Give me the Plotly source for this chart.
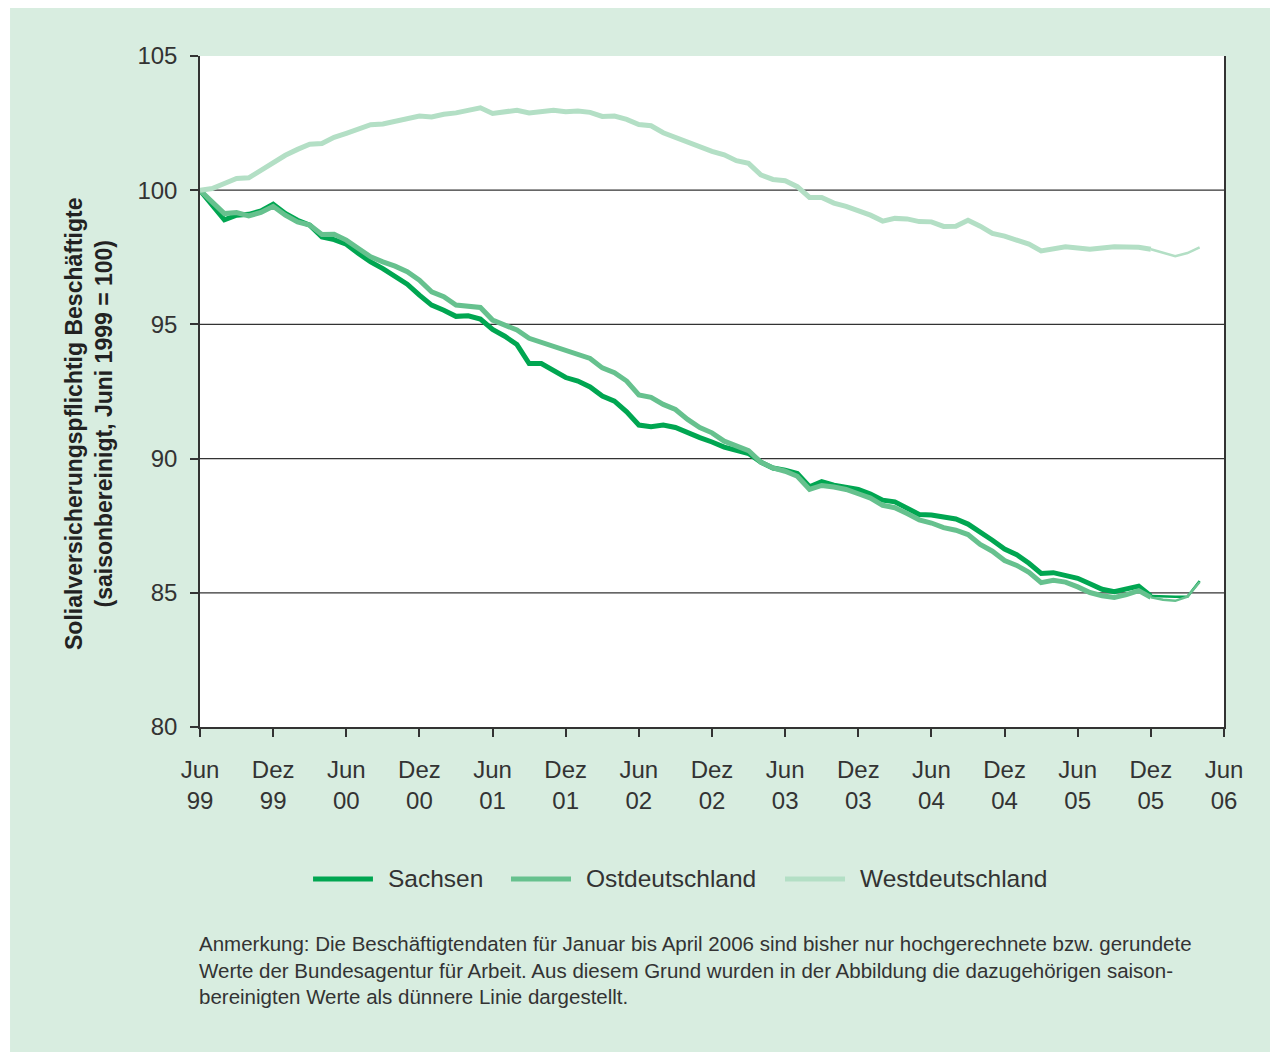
import plotly.graph_objects as go

# month index since Jun 1999 (0 = Jun 99, 82 = Apr 06)
months = list(range(83))

sachsen = [100.0, 99.45, 98.9, 99.07, 99.1, 99.23, 99.48, 99.13, 98.88, 98.7,
           98.26, 98.16, 97.99, 97.64, 97.33, 97.08, 96.77, 96.5, 96.09, 95.72,
           95.53, 95.3, 95.32, 95.2, 94.81, 94.56, 94.25, 93.54, 93.54, 93.27,
           93.02, 92.89, 92.67, 92.33, 92.14, 91.74, 91.25, 91.19, 91.25, 91.16,
           90.96, 90.78, 90.62, 90.43, 90.31, 90.19, 89.87, 89.65, 89.57, 89.45,
           88.95, 89.14, 89.01, 88.95, 88.85, 88.68, 88.45, 88.39, 88.18, 87.92,
           87.9, 87.83, 87.75, 87.56, 87.27, 86.96, 86.63, 86.42, 86.1, 85.72,
           85.75, 85.66, 85.54, 85.34, 85.13, 85.04, 85.15, 85.25, 84.88, 84.86,
           84.85, 84.85, 85.44]

ost = [100.0, 99.55, 99.13, 99.17, 99.04, 99.17, 99.4, 99.07, 98.82, 98.7,
       98.35, 98.36, 98.14, 97.83, 97.52, 97.33, 97.17, 96.96, 96.65, 96.21,
       96.03, 95.72, 95.66, 95.63, 95.16, 94.97, 94.79, 94.48, 94.32, 94.2,
       94.04, 93.85, 93.73, 93.38, 93.2, 92.89, 92.37, 92.28, 92.02, 91.83,
       91.46, 91.16, 90.96, 90.65, 90.45, 90.3, 89.87, 89.65, 89.53, 89.34,
       88.85, 89.0, 88.94, 88.85, 88.69, 88.53, 88.26, 88.17, 87.95, 87.72,
       87.6, 87.43, 87.33, 87.17, 86.8, 86.55, 86.2, 86.02, 85.76, 85.38,
       85.47, 85.4, 85.22, 85.01, 84.89, 84.83, 84.93, 85.08, 84.83, 84.74,
       84.7, 84.86, 85.4]

west = [100.0, 100.06, 100.25, 100.44, 100.46, 100.74, 100.99, 101.3, 101.52, 101.71,
        101.74, 101.97, 102.12, 102.28, 102.44, 102.47, 102.58, 102.66, 102.76, 102.73,
        102.83, 102.88, 102.98, 103.07, 102.86, 102.92, 102.98, 102.88, 102.92, 102.98,
        102.92, 102.95, 102.9, 102.75, 102.76, 102.64, 102.45, 102.4, 102.14, 101.97,
        101.8, 101.6, 101.45, 101.32, 101.1, 101.0, 100.57, 100.4, 100.35, 100.13,
        99.73, 99.73, 99.52, 99.4, 99.25, 99.07, 98.85, 98.95, 98.93, 98.83,
        98.82, 98.65, 98.66, 98.88, 98.66, 98.39, 98.29, 98.16, 97.99, 97.74,
        97.83, 97.89, 97.85, 97.8, 97.85, 97.89, 97.88, 97.87, 97.8, 97.68,
        97.54, 97.66, 97.87]

split = 78  # Dez 05: from here on values shown as thinner line

series_names = ["Sachsen", "Ostdeutschland", "Westdeutschland"]
series_values = [sachsen, ost, west]
colors = ["#00a651", "#66c18e", "#b3dfc5"]

tick_vals = list(range(0, 85, 6))
tick_text = ["Jun<br>99", "Dez<br>99", "Jun<br>00", "Dez<br>00", "Jun<br>01",
             "Dez<br>01", "Jun<br>02", "Dez<br>02", "Jun<br>03", "Dez<br>03",
             "Jun<br>04", "Dez<br>04", "Jun<br>05", "Dez<br>05", "Jun<br>06"]
y_ticks = [80, 85, 90, 95, 100, 105]
grid_vals = [85, 90, 95, 100]

y_title = ("<b>Solialversicherungspflichtig Beschäftigte</b><br>"
           "<b>(saisonbereinigt, Juni 1999 = 100)</b>")
note = ("Anmerkung: Die Beschäftigtendaten für Januar bis April 2006 sind bisher nur hochgerechnete bzw. gerundete<br>"
        "Werte der Bundesagentur für Arbeit. Aus diesem Grund wurden in der Abbildung die dazugehörigen saison-<br>"
        "bereinigten Werte als dünnere Linie dargestellt.")

FONT = "Liberation Sans, Arial, sans-serif"
TXT = "#333333"

fig = go.Figure()
for name, vals, col in zip(series_names, series_values, colors):
    fig.add_trace(go.Scatter(x=months[:split + 1], y=vals[:split + 1], mode="lines",
                             name=name, line=dict(color=col, width=5),
                             showlegend=False, hoverinfo="skip"))
    fig.add_trace(go.Scatter(x=months[split:], y=vals[split:], mode="lines",
                             name=name, line=dict(color=col, width=2.5),
                             showlegend=False, hoverinfo="skip"))

shapes = [
    dict(type="rect", xref="paper", yref="paper", x0=-0.1855, x1=1.0508,
         y0=-0.4844, y1=1.0715, fillcolor="#d8ede0", line=dict(width=0), layer="below"),
    dict(type="rect", xref="paper", yref="paper", x0=0, x1=1, y0=0, y1=1,
         fillcolor="white", line=dict(width=0), layer="below"),
]
for g in grid_vals:
    shapes.append(dict(type="line", xref="paper", yref="y", x0=0, x1=1, y0=g, y1=g,
                       line=dict(color="#333333", width=1.2), layer="below"))

# manual legend
leg_y = -0.2265
leg_items = [(0.1104, 0.1689, 0.1816), (0.3037, 0.3623, 0.375), (0.5713, 0.6299, 0.6426)]
annotations = []
for (lx0, lx1, tx), name, col in zip(leg_items, series_names, colors):
    shapes.append(dict(type="line", xref="paper", yref="paper", x0=lx0, x1=lx1,
                       y0=leg_y, y1=leg_y, line=dict(color=col, width=5)))
    annotations.append(dict(xref="paper", yref="paper", x=tx, y=leg_y, text=name,
                            showarrow=False, xanchor="left", yanchor="middle",
                            font=dict(family=FONT, size=24.5, color=TXT)))

annotations.append(dict(xref="paper", yref="paper", x=-0.1084, y=0.4516, text=y_title,
                        textangle=-90, showarrow=False, xanchor="center", yanchor="middle",
                        font=dict(family=FONT, size=23, color="#222222")))
annotations.append(dict(xref="paper", yref="paper", x=-0.003, y=-0.303, text=note,
                        showarrow=False, xanchor="left", yanchor="top", align="left",
                        font=dict(family=FONT, size=20.5, color=TXT)))

fig.update_layout(
    width=1270, height=1046, autosize=False,
    margin=dict(l=192, r=54, t=48, b=327),
    paper_bgcolor="white", plot_bgcolor="white",
    shapes=shapes, annotations=annotations, showlegend=False,
    font=dict(family=FONT, color=TXT),
    xaxis=dict(range=[0, 84], tickvals=tick_vals, ticktext=tick_text,
               showgrid=False, zeroline=False, showline=True, linecolor="#333333",
               linewidth=1.5, ticks="outside", ticklen=8, tickwidth=1.5,
               tickcolor="#333333", tickfont=dict(family=FONT, size=24, color=TXT),
               ticklabelstandoff=12),
    yaxis=dict(range=[80, 105], tickvals=y_ticks, showgrid=False, zeroline=False,
               showline=True, mirror=True, linecolor="#333333", linewidth=1.5,
               ticks="outside", ticklen=8, tickwidth=1.5, tickcolor="#333333",
               tickfont=dict(family=FONT, size=24, color=TXT), ticklabelstandoff=8),
)

fig.write_html("out.html")
